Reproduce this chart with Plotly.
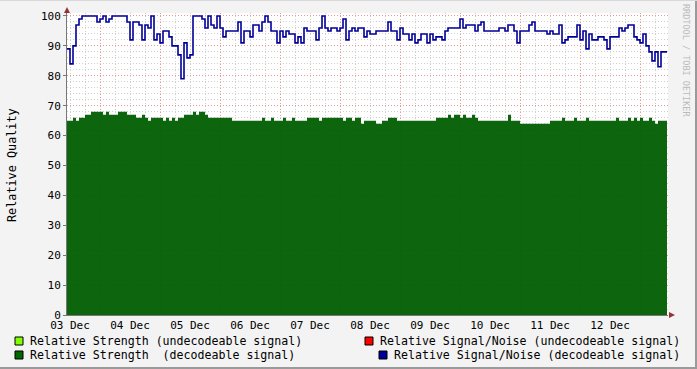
import pandas as pd
import plotly.graph_objects as go

# ---------------- data ----------------
# Relative Signal/Noise (decodeable signal), one sample per 72 minutes from 03 Dec 10:48
snr_decodeable = [
    89, 84, 90, 97, 99, 100, 100, 100, 100, 100,
    98, 99, 100, 98, 99, 100, 100, 100, 100, 100,
    98, 92, 98, 98, 97, 92, 97, 96, 100, 92,
    94, 91, 95, 95, 93, 90, 90, 87, 79, 91,
    86, 87, 100, 100, 100, 99, 96, 100, 97, 96,
    100, 96, 93, 95, 95, 95, 95, 98, 91, 95,
    95, 93, 97, 97, 95, 98, 100, 98, 95, 95,
    91, 95, 93, 95, 94, 94, 91, 93, 91, 96,
    95, 95, 95, 92, 96, 100, 96, 95, 96, 96,
    95, 96, 99, 92, 95, 96, 95, 96, 96, 93,
    95, 94, 94, 95, 95, 95, 95, 98, 95, 95,
    92, 96, 94, 94, 92, 94, 91, 92, 94, 94,
    91, 94, 92, 93, 93, 92, 95, 96, 96, 96,
    96, 99, 96, 97, 97, 97, 95, 97, 98, 95,
    95, 95, 95, 95, 96, 96, 95, 97, 97, 95,
    91, 95, 95, 95, 97, 98, 95, 95, 95, 95,
    94, 95, 94, 94, 97, 91, 92, 93, 93, 93,
    97, 92, 95, 89, 94, 92, 92, 93, 93, 92,
    89, 93, 93, 93, 96, 95, 96, 97, 97, 93,
    92, 91, 94, 90, 88, 85, 88, 83, 88, 88, 88,
]

# Relative Strength (decodeable signal)
strength_decodeable = [
    65, 65, 66, 65, 66, 66, 67, 67, 68, 68,
    68, 68, 67, 68, 67, 67, 67, 68, 68, 68,
    67, 67, 67, 66, 66, 67, 66, 65, 66, 66,
    66, 66, 65, 66, 65, 66, 65, 66, 66, 67,
    67, 67, 68, 67, 68, 68, 67, 66, 66, 66,
    66, 66, 66, 66, 66, 65, 65, 65, 65, 65,
    65, 65, 65, 65, 65, 66, 65, 65, 66, 65,
    65, 65, 66, 65, 65, 66, 65, 65, 65, 65,
    66, 66, 66, 66, 65, 66, 66, 66, 66, 66,
    66, 66, 65, 66, 66, 65, 66, 66, 64, 65,
    65, 65, 65, 64, 64, 65, 65, 66, 66, 66,
    65, 65, 65, 65, 65, 65, 65, 65, 65, 65,
    65, 65, 65, 66, 66, 66, 66, 67, 66, 67,
    67, 66, 67, 66, 66, 67, 66, 65, 65, 65,
    65, 65, 65, 65, 65, 65, 65, 67, 65, 65,
    65, 64, 64, 64, 64, 64, 64, 64, 64, 64,
    64, 65, 65, 65, 65, 66, 65, 65, 65, 66,
    65, 65, 65, 66, 65, 65, 65, 65, 65, 65,
    65, 65, 65, 66, 65, 65, 65, 66, 65, 66,
    65, 66, 65, 65, 66, 65, 64, 65, 65, 65, 65,
]

start_time = "2009-12-03 10:48"
sample_step = "72min"
x_range = ["2009-12-03 10:48", "2009-12-13 11:12"]

y_title = "Relative Quality"
legend_left = ["Relative Strength (undecodeable signal)",
               "Relative Strength  (decodeable signal)"]
legend_right = ["Relative Signal/Noise (undecodeable signal)",
                "Relative Signal/Noise (decodeable signal)"]
watermark = "RRDTOOL / TOBI OETIKER"

times = pd.date_range(start_time, periods=len(snr_decodeable), freq=sample_step)

# ---------------- layout geometry ----------------
W, H = 697, 369
L, R, T, B = 67, 29, 13, 54
PW, PH = W - L - R, H - T - B


def px(x):
    return (x - L) / PW


def py(y):
    return (H - B - y) / PH


MONO = "DejaVu Sans Mono"
GREEN = "#006600"
BLUE = "#000099"

fig = go.Figure()
fig.add_trace(go.Scatter(
    x=times, y=strength_decodeable, mode="lines", line=dict(width=0, shape="hv"),
    fill="tozeroy", fillcolor="rgba(0,94,0,0.95)", hoverinfo="skip", showlegend=False,
))
fig.add_trace(go.Scatter(
    x=times, y=snr_decodeable, mode="lines",
    line=dict(color=BLUE, width=1.6, shape="hv"), showlegend=False,
))

fig.update_layout(
    width=W, height=H,
    margin=dict(l=L, r=R, t=T, b=B, autoexpand=False),
    paper_bgcolor="#F3F3F3", plot_bgcolor="#FFFFFF",
    font=dict(family=MONO, size=11, color="#000000"),
    showlegend=False,
)

fig.update_xaxes(
    type="date", range=x_range,
    tick0="2009-12-04", dtick=86400000, ticklabelmode="period", tickformat="%d %b",
    showgrid=True, gridcolor="rgba(225,110,110,0.7)", griddash="1px,2px", gridwidth=1,
    ticks="",
    minor=dict(dtick=21600000, tick0="2009-12-04", showgrid=True, gridcolor="#cfcfcf",
               griddash="1px,2px", gridwidth=1, ticks=""),
    showline=True, linecolor="#777777", linewidth=1,
    tickfont=dict(family=MONO, size=11), zeroline=False, automargin=False,
)
fig.update_yaxes(
    range=[0, 101], tick0=0, dtick=10,
    showgrid=True, gridcolor="rgba(225,110,110,0.7)", griddash="1px,2px", gridwidth=1,
    ticks="outside", ticklen=3, tickcolor="#777777",
    minor=dict(dtick=2, showgrid=True, gridcolor="#cfcfcf", griddash="1px,2px", gridwidth=1, ticks=""),
    showline=True, linecolor="#777777", linewidth=1,
    tickfont=dict(family=MONO, size=11), zeroline=False, automargin=False,
)

LEG_SIZE = 11.6
annotations = [
    dict(text=y_title, x=px(12), y=py(165), xref="paper", yref="paper", textangle=-90,
         showarrow=False, font=dict(family=MONO, size=11.8), xanchor="center", yanchor="middle"),
    dict(text=watermark, x=px(686), y=py(60), xref="paper", yref="paper", textangle=90,
         showarrow=False, font=dict(family=MONO, size=8.5, color="#BBBBBB"),
         xanchor="center", yanchor="middle"),
]
shapes = []
leg_rows = [341, 355]
left_colors = ["#80FF00", GREEN]
right_colors = ["#FF0000", BLUE]
right_sq_x = [365, 379]
for i, row_y in enumerate(leg_rows):
    annotations.append(dict(text=legend_left[i], x=px(28), y=py(row_y), xref="paper", yref="paper",
                            showarrow=False, xanchor="left", yanchor="middle",
                            font=dict(family=MONO, size=LEG_SIZE)))
    annotations.append(dict(text=legend_right[i], x=px(right_sq_x[i] + 13), y=py(row_y),
                            xref="paper", yref="paper",
                            showarrow=False, xanchor="left", yanchor="middle",
                            font=dict(family=MONO, size=LEG_SIZE)))
    shapes.append(dict(type="rect", xref="paper", yref="paper",
                       x0=px(15), x1=px(23), y0=py(row_y + 4), y1=py(row_y - 4),
                       fillcolor=left_colors[i], line=dict(color="#000000", width=1)))
    shapes.append(dict(type="rect", xref="paper", yref="paper",
                       x0=px(right_sq_x[i]), x1=px(right_sq_x[i] + 8), y0=py(row_y + 4), y1=py(row_y - 4),
                       fillcolor=right_colors[i], line=dict(color="#000000", width=1)))

# axis arrows
shapes.append(dict(type="path", xref="paper", yref="paper",
                   path=f"M {px(64)},{py(13)} L {px(70)},{py(13)} L {px(67)},{py(7)} Z",
                   fillcolor="#993333", line=dict(width=0)))
shapes.append(dict(type="path", xref="paper", yref="paper",
                   path=f"M {px(669)},{py(312)} L {px(669)},{py(318)} L {px(675)},{py(315)} Z",
                   fillcolor="#993333", line=dict(width=0)))
# frame edges
shapes.append(dict(type="line", xref="paper", yref="paper", x0=px(0), x1=px(697), y0=py(368), y1=py(368),
                   line=dict(color="#9A9A9A", width=2)))
shapes.append(dict(type="line", xref="paper", yref="paper", x0=px(696), x1=px(696), y0=py(0), y1=py(369),
                   line=dict(color="#9A9A9A", width=2)))
shapes.append(dict(type="line", xref="paper", yref="paper", x0=px(0), x1=px(697), y0=py(0.5), y1=py(0.5),
                   line=dict(color="#D8D8D8", width=1)))

fig.update_layout(annotations=annotations, shapes=shapes)
fig.write_html(
    "out.html",
    config={"displayModeBar": False, "staticPlot": True},
    post_script="document.body.style.margin='0';document.body.style.padding='0';"
                "document.body.style.background='#F3F3F3';document.body.style.overflow='hidden';",
)
